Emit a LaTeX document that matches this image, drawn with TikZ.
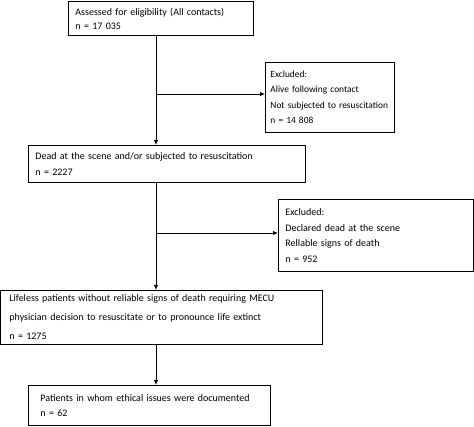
\documentclass[tikz,border=0pt]{standalone}
\usepackage{fontspec}
\setmainfont{Carlito}
\usetikzlibrary{arrows.meta}
\tikzset{
  box/.style={draw, line width=0.9pt, align=left, anchor=north west, inner xsep=7pt, inner ysep=0pt,
    font=\fontsize{10}{15.5}\selectfont, execute at begin node={\hyphenpenalty=10000}},
  arr/.style={line width=0.9pt, -{Latex[length=5pt,width=4.5pt]}}
}
\begin{document}
\begin{tikzpicture}[x=1pt,y=-1pt]
\useasboundingbox (0,0) rectangle (474,427);
\node[box, text width=171pt, minimum height=34pt, font=\fontsize{10}{14}\selectfont] (assess) at (68,1)
  {Assessed for eligibility (All contacts)\\n = 17 035};
\node[box, text width=119pt, inner xsep=5pt, minimum height=70pt, font=\fontsize{9.4}{15.5}\selectfont] (excl1) at (265,62)
  {Excluded:\\Alive following contact\\\mbox{Not subjected to resuscitation}\\n = 14 808};
\node[box, text width=263pt, minimum height=37pt, font=\fontsize{10}{16}\selectfont] (dead) at (28,145)
  {Dead at the scene and/or subjected to resuscitation\\n = 2227};
\node[box, text width=181pt, minimum height=72pt] (excl2) at (278,199)
  {Excluded:\\Declared dead at the scene\\Rellable signs of death\\n = 952};
\node[box, text width=304pt, minimum height=54pt, inner xsep=9pt, font=\fontsize{10}{19}\selectfont] (life) at (0,290)
  {Lifeless patients without reliable signs of death requiring MECU\\physician decision to resuscitate or to pronounce life extinct\\n = 1275};
\node[box, text width=218pt, minimum height=40pt, inner xsep=12pt] (ethic) at (28,385)
  {Patients in whom ethical issues were documented\\n = 62};
% spine and branches
\coordinate (j1) at (156,94);
\coordinate (j2) at (156,233);
\draw[arr] (assess.south -| j1) -- (dead.north -| j1);
\draw[arr] (j1) -- (excl1.west |- j1);
\draw[arr] (dead.south -| j2) -- (life.north -| j2);
\draw[arr] (j2) -- (excl2.west |- j2);
\draw[arr] (life.south -| j2) -- (ethic.north -| j2);
\end{tikzpicture}
\end{document}
